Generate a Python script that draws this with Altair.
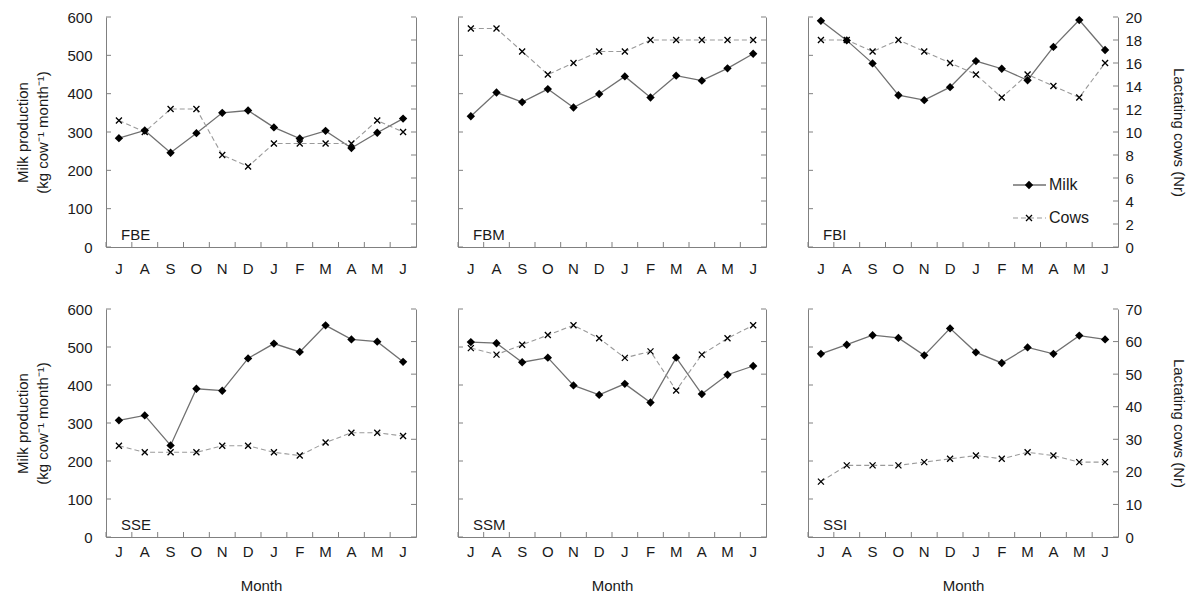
import altair as alt
import pandas as pd

# ---------------- data ----------------
months = ["Jul", "Aug", "Sep", "Oct", "Nov", "Dec", "Jan", "Feb", "Mar", "Apr", "May", "Jun"]

panel_names = ["FBE", "FBM", "FBI", "SSE", "SSM", "SSI"]

fbe_milk = [284, 304, 246, 297, 350, 356, 312, 283, 303, 258, 298, 335]
fbe_cows = [11, 10, 12, 12, 8, 7, 9, 9, 9, 9, 11, 10]
fbm_milk = [341, 403, 378, 412, 364, 399, 445, 390, 447, 434, 466, 504]
fbm_cows = [19, 19, 17, 15, 16, 17, 17, 18, 18, 18, 18, 18]
fbi_milk = [590, 539, 479, 396, 383, 417, 485, 465, 435, 522, 592, 514]
fbi_cows = [18, 18, 17, 18, 17, 16, 15, 13, 15, 14, 13, 16]
sse_milk = [307, 320, 241, 390, 385, 470, 509, 487, 557, 520, 514, 461]
sse_cows = [28, 26, 26, 26, 28, 28, 26, 25, 29, 32, 32, 31]
ssm_milk = [513, 510, 460, 472, 399, 374, 403, 354, 472, 376, 427, 450]
ssm_cows = [58, 56, 59, 62, 65, 61, 55, 57, 45, 56, 61, 65]
ssi_milk = [482, 506, 531, 524, 478, 549, 486, 458, 499, 482, 530, 520]
ssi_cows = [17, 22, 22, 22, 23, 24, 25, 24, 26, 25, 23, 23]

milk_ticks = [0, 100, 200, 300, 400, 500, 600]
cows_ticks_top = [0, 2, 4, 6, 8, 10, 12, 14, 16, 18, 20]
cows_ticks_bottom = [0, 10, 20, 30, 40, 50, 60, 70]

legend_labels = ["Milk", "Cows"]

milk_title = ["Milk production", "(kg cow\u207b\u00b9 month\u207b\u00b9)"]
cows_title = "Lactating cows (Nr)"
x_title = "Month"

# ---------------- style ----------------
FONT = "Liberation Sans"
TXT = "#1a1a1a"
AX = "#808080"
MILK_LINE = "#707070"
COWS_LINE = "#9a9a9a"
XPATH = "M-1,-1L1,1M-1,1L1,-1"
WIDTHS = [310, 308, 310]
HEIGHTS = [230, 228]


def panel(name, milk, cows, cows_ticks, col, row):
    W = WIDTHS[col]
    H = HEIGHTS[row]
    df = pd.DataFrame({"m": months, "milk": milk, "cows": cows})
    xscale = alt.Scale(type="band", domain=months, paddingInner=0, paddingOuter=0)
    milk_scale = alt.Scale(domain=[milk_ticks[0], milk_ticks[-1]], nice=False)
    cows_scale = alt.Scale(domain=[cows_ticks[0], cows_ticks[-1]], nice=False)

    x_axis_kw = dict(
        orient="bottom", ticks=False, domain=True, grid=False, labelAngle=0,
        labelExpr="substring(datum.label, 0, 1)",
        labelPadding=14 if row == 0 else 7,
        titlePadding=19,
    )
    if row == 1:
        x_axis = alt.Axis(title=x_title, **x_axis_kw)
    else:
        x_axis = alt.Axis(title=None, **x_axis_kw)

    milk_axis_kw = dict(orient="left", values=milk_ticks, ticks=False, grid=False,
                        domain=True, labels=(col == 0), labelPadding=14,
                        titlePadding=16, titleLineHeight=20)
    if col == 0:
        milk_axis = alt.Axis(title=milk_title, **milk_axis_kw)
    else:
        milk_axis = alt.Axis(title=None, **milk_axis_kw)

    cows_axis_kw = dict(orient="right", values=cows_ticks, ticks=False, grid=False,
                        domain=True, labels=(col == 2), labelPadding=7,
                        titlePadding=29)
    if col == 2:
        cows_axis = alt.Axis(title=cows_title, **cows_axis_kw)
    else:
        cows_axis = alt.Axis(title=None, **cows_axis_kw)

    base = alt.Chart(df)
    x_main = alt.X("m:N", scale=xscale, axis=x_axis)

    milk_line = base.mark_line(color=MILK_LINE, strokeWidth=1.3).encode(
        x=x_main, y=alt.Y("milk:Q", scale=milk_scale, axis=milk_axis))
    milk_pts = base.mark_point(shape="diamond", filled=True, color="black",
                               size=70, opacity=1).encode(
        x=x_main, y=alt.Y("milk:Q", scale=milk_scale, axis=None))
    cows_line = base.mark_line(color=COWS_LINE, strokeWidth=1.1,
                               strokeDash=[5, 3]).encode(
        x=x_main, y=alt.Y("cows:Q", scale=cows_scale, axis=cows_axis))
    cows_pts = base.mark_point(shape=XPATH, filled=False, color="black",
                               strokeWidth=1.3, size=36, opacity=1).encode(
        x=x_main, y=alt.Y("cows:Q", scale=cows_scale, axis=None))

    # inward-pointing tick marks
    milk_tk = alt.Chart(pd.DataFrame({"milk": milk_ticks})).mark_tick(
        orient="horizontal", size=5, thickness=1, color=AX, opacity=1).encode(
        y=alt.Y("milk:Q", scale=milk_scale, axis=None), x=alt.value(2.5))
    cows_tk = alt.Chart(pd.DataFrame({"cows": cows_ticks})).mark_tick(
        orient="horizontal", size=5, thickness=1, color=AX, opacity=1).encode(
        y=alt.Y("cows:Q", scale=cows_scale, axis=None), x=alt.value(W - 2.5))
    x_tk = alt.Chart(pd.DataFrame({"m": months})).mark_tick(
        orient="vertical", size=5, thickness=1, color=AX, opacity=1).encode(
        x=alt.X("m:N", scale=xscale, axis=x_axis, bandPosition=0),
        y=alt.value(H - 2.5))

    label = alt.Chart(pd.DataFrame({"t": [name]})).mark_text(
        align="left", baseline="middle", font=FONT, fontSize=15, color=TXT).encode(
        text="t:N", x=alt.value(15), y=alt.value(H - 12))

    layers = [milk_line, cows_line, milk_pts, cows_pts, milk_tk, cows_tk, x_tk, label]

    if name == "FBI":
        ys = [168, 201]
        for lab, yy in zip(legend_labels, ys):
            d = pd.DataFrame({"t": [lab]})
            if lab == "Milk":
                rl = alt.Chart(d).mark_rule(color=MILK_LINE, strokeWidth=1.3).encode(
                    x=alt.value(205), x2=alt.value(238), y=alt.value(yy))
                pt = alt.Chart(d).mark_point(shape="diamond", filled=True, color="black",
                                             size=70, opacity=1).encode(
                    x=alt.value(221), y=alt.value(yy))
            else:
                rl = alt.Chart(d).mark_rule(color=COWS_LINE, strokeWidth=1.1,
                                            strokeDash=[5, 3]).encode(
                    x=alt.value(205), x2=alt.value(238), y=alt.value(yy))
                pt = alt.Chart(d).mark_point(shape=XPATH, filled=False, color="black",
                                             strokeWidth=1.3, size=36, opacity=1).encode(
                    x=alt.value(221), y=alt.value(yy))
            tx = alt.Chart(d).mark_text(align="left", baseline="middle", font=FONT,
                                        fontSize=16, color=TXT).encode(
                text="t:N", x=alt.value(241), y=alt.value(yy))
            layers += [rl, pt, tx]

    return alt.layer(*layers).resolve_scale(y="independent").properties(width=W, height=H)


all_milk = [fbe_milk, fbm_milk, fbi_milk, sse_milk, ssm_milk, ssi_milk]
all_cows = [fbe_cows, fbm_cows, fbi_cows, sse_cows, ssm_cows, ssi_cows]

panels = []
for i, name in enumerate(panel_names):
    row, col = divmod(i, 3)
    ct = cows_ticks_top if row == 0 else cows_ticks_bottom
    panels.append(panel(name, all_milk[i], all_cows[i], ct, col, row))

row1 = alt.hconcat(*panels[:3], spacing=41)
row2 = alt.hconcat(*panels[3:], spacing=41)

chart = alt.vconcat(row1, row2, spacing=26).properties(
    padding={"left": 15, "top": 10, "right": 5, "bottom": 4}
).configure_view(stroke=None).configure_axis(
    labelFont=FONT, labelFontSize=15, labelColor=TXT,
    titleFont=FONT, titleFontSize=15, titleFontWeight="normal", titleColor=TXT,
    domainColor=AX, domainWidth=1,
)

chart.save("out.html", embed_options={"renderer": "svg", "actions": False})
